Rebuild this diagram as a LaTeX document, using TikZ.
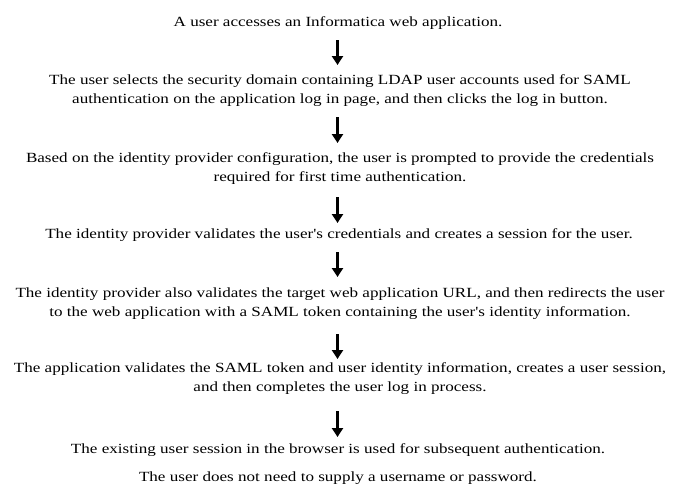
\documentclass[tikz,border=0pt]{standalone}
\usepackage{fontspec}
\setmainfont{Liberation Serif}[FakeStretch=1.22, Ligatures=TeXOff]
\usetikzlibrary{arrows.meta,calc}
\begin{document}
\begin{tikzpicture}[x=1pt,y=-1pt,
  txt/.style={align=center, inner sep=0pt, anchor=base, font=\fontsize{14}{19}\selectfont},
  arr/.style={line width=3.5pt, -{Triangle[width=11pt,length=9pt]}}]
\useasboundingbox (0,0) rectangle (682,496);
\node[txt] (s1) at (338,26) {A user accesses an Informatica web application.};
\node[txt] (s2) at (340,103) {The user selects the security domain containing LDAP user accounts used for SAML\\authentication on the application log in page, and then clicks the log in button.};
\node[txt] (s3) at (340,181) {Based on the identity provider configuration, the user is prompted to provide the credentials\\required for first time authentication.};
\node[txt] (s4) at (339,238) {The identity provider validates the user's credentials and creates a session for the user.};
\node[txt] (s5) at (340,316) {The identity provider also validates the target web application URL, and then redirects the user\\to the web application with a SAML token containing the user's identity information.};
\node[txt] (s6) at (340,391) {The application validates the SAML token and user identity information, creates a user session,\\and then completes the user log in process.};
\node[txt] (s7) at (338,453) {The existing user session in the browser is used for subsequent authentication.};
\node[txt] (s8) at (338,481) {The user does not need to supply a username or password.};
\draw[arr] ($(s1.base -| 337.5,0)+(0,14)$) -- ($(s2.base -| 337.5,0)+(0,-38)$);
\draw[arr] ($(s2.base -| 337.5,0)+(0,14)$) -- ($(s3.base -| 337.5,0)+(0,-38)$);
\draw[arr] ($(s3.base -| 337.5,0)+(0,16)$) -- ($(s4.base -| 337.5,0)+(0,-15)$);
\draw[arr] ($(s4.base -| 337.5,0)+(0,14)$) -- ($(s5.base -| 337.5,0)+(0,-39)$);
\draw[arr] ($(s5.base -| 337.5,0)+(0,18)$) -- ($(s6.base -| 337.5,0)+(0,-32)$);
\draw[arr] ($(s6.base -| 337.5,0)+(0,20)$) -- ($(s7.base -| 337.5,0)+(0,-16)$);
\end{tikzpicture}
\end{document}
